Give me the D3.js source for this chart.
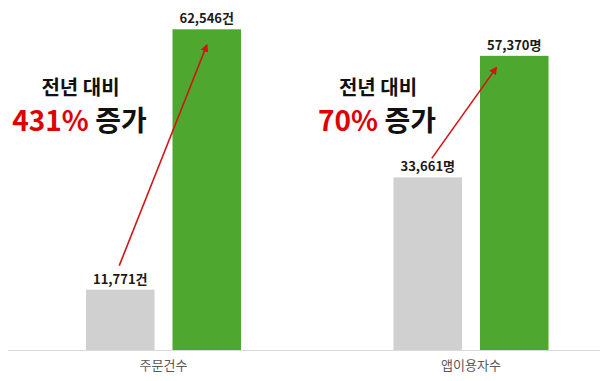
<!DOCTYPE html>
<meta charset="utf-8">
<script src="https://d3js.org/d3.v7.min.js"></script>
<style>
  body { margin: 0; background: #fff; }
  text { font-family: "Noto Sans CJK KR", "Noto Sans", sans-serif; }
</style>
<div id="chart"></div>
<script>
  // data
  var categories = ["주문건수", "앱이용자수"];
  var units = ["건", "명"];
  var prevValues = [11771, 33661];
  var currValues = [62546, 57370];
  var growthLabels = ["431%", "70%"];

  var width = 600, height = 381;
  var baseline = 350;

  var svg = d3.select("#chart").append("svg")
    .attr("width", width)
    .attr("height", height);

  // scales
  var x0 = d3.scaleBand()
    .domain(categories)
    .range([9.75, 624.75]);
  var x1 = d3.scaleBand()
    .domain(["prev", "curr"])
    .range([-86.5, 86.5])
    .paddingInner(0.208)
    .paddingOuter(0.104);
  var y = d3.scaleLinear()
    .domain([0, 62546])
    .range([baseline, 29.3]);

  var colors = { prev: "#d0d0d0", curr: "#4ea72e" };

  var rows = categories.map(function (c, i) {
    return { cat: c, unit: units[i], prev: prevValues[i], curr: currValues[i], growth: growthLabels[i] };
  });

  // axis line
  svg.append("line")
    .attr("x1", 8).attr("x2", width)
    .attr("y1", baseline + 0.5).attr("y2", baseline + 0.5)
    .attr("stroke", "#d9d9d9")
    .attr("stroke-width", 1);

  var groups = svg.selectAll("g.grp")
    .data(rows)
    .enter().append("g")
    .attr("class", "grp")
    .attr("transform", function (d) { return "translate(" + (x0(d.cat) + x0.bandwidth() / 2) + ",0)"; });

  groups.selectAll("rect")
    .data(function (d) { return [{ k: "prev", v: d.prev, u: d.unit }, { k: "curr", v: d.curr, u: d.unit }]; })
    .enter().append("rect")
    .attr("x", function (d) { return x1(d.k); })
    .attr("width", x1.bandwidth())
    .attr("y", function (d) { return y(d.v); })
    .attr("height", function (d) { return baseline - y(d.v); })
    .attr("fill", function (d) { return colors[d.k]; });

  groups.selectAll("text.val")
    .data(function (d) { return [{ k: "prev", v: d.prev, u: d.unit }, { k: "curr", v: d.curr, u: d.unit }]; })
    .enter().append("text")
    .attr("class", "val")
    .attr("x", function (d) { return x1(d.k) + x1.bandwidth() / 2; })
    .attr("y", function (d) { return y(d.v) - 6; })
    .attr("text-anchor", "middle")
    .attr("font-size", 13)
    .attr("font-weight", "bold")
    .attr("fill", "#1a1a1a")
    .text(function (d) { return d3.format(",")(d.v) + d.u; });

  // category labels
  groups.append("text")
    .attr("y", 370)
    .attr("text-anchor", "middle")
    .attr("font-size", 13)
    .attr("fill", "#595959")
    .text(function (d) { return d.cat; });

  // arrows
  var defs = svg.append("defs");
  defs.append("marker")
    .attr("id", "head")
    .attr("viewBox", "0 0 10 10")
    .attr("refX", 8).attr("refY", 5)
    .attr("markerWidth", 5).attr("markerHeight", 5)
    .attr("orient", "auto")
    .append("path")
    .attr("d", "M0,0L10,5L0,10z")
    .attr("fill", "#d01515");

  // arrow offsets from bar tops: [start dx, start dy, end dx, end dy]
  var arrowOffsets = [[-1, -24, 0, 16], [4, -19, -18, 12]];

  groups.append("line")
    .attr("x1", function (d, i) { return x1("prev") + x1.bandwidth() / 2 + arrowOffsets[i][0]; })
    .attr("y1", function (d, i) { return y(d.prev) + arrowOffsets[i][1]; })
    .attr("x2", function (d, i) { return x1("curr") + x1.bandwidth() / 2 + arrowOffsets[i][2]; })
    .attr("y2", function (d, i) { return y(d.curr) + arrowOffsets[i][3]; })
    .attr("stroke", "#d01515")
    .attr("stroke-width", 1.6)
    .attr("marker-end", "url(#head)");

  // growth annotation
  var textDx = [-83, -93];
  groups.append("text")
    .attr("x", function (d, i) { return textDx[i]; })
    .attr("y", 95)
    .attr("text-anchor", "middle")
    .attr("font-size", 20)
    .attr("font-weight", "bold")
    .attr("fill", "#111")
    .text("전년 대비");

  var g2 = groups.append("text")
    .attr("x", function (d, i) { return textDx[i] - 1; })
    .attr("y", 131)
    .attr("text-anchor", "middle")
    .attr("font-size", 28)
    .attr("font-weight", "bold")
    .attr("fill", "#111");
  g2.append("tspan")
    .attr("fill", "#e00000")
    .text(function (d) { return d.growth; });
  g2.append("tspan")
    .text(" 증가");
</script>
